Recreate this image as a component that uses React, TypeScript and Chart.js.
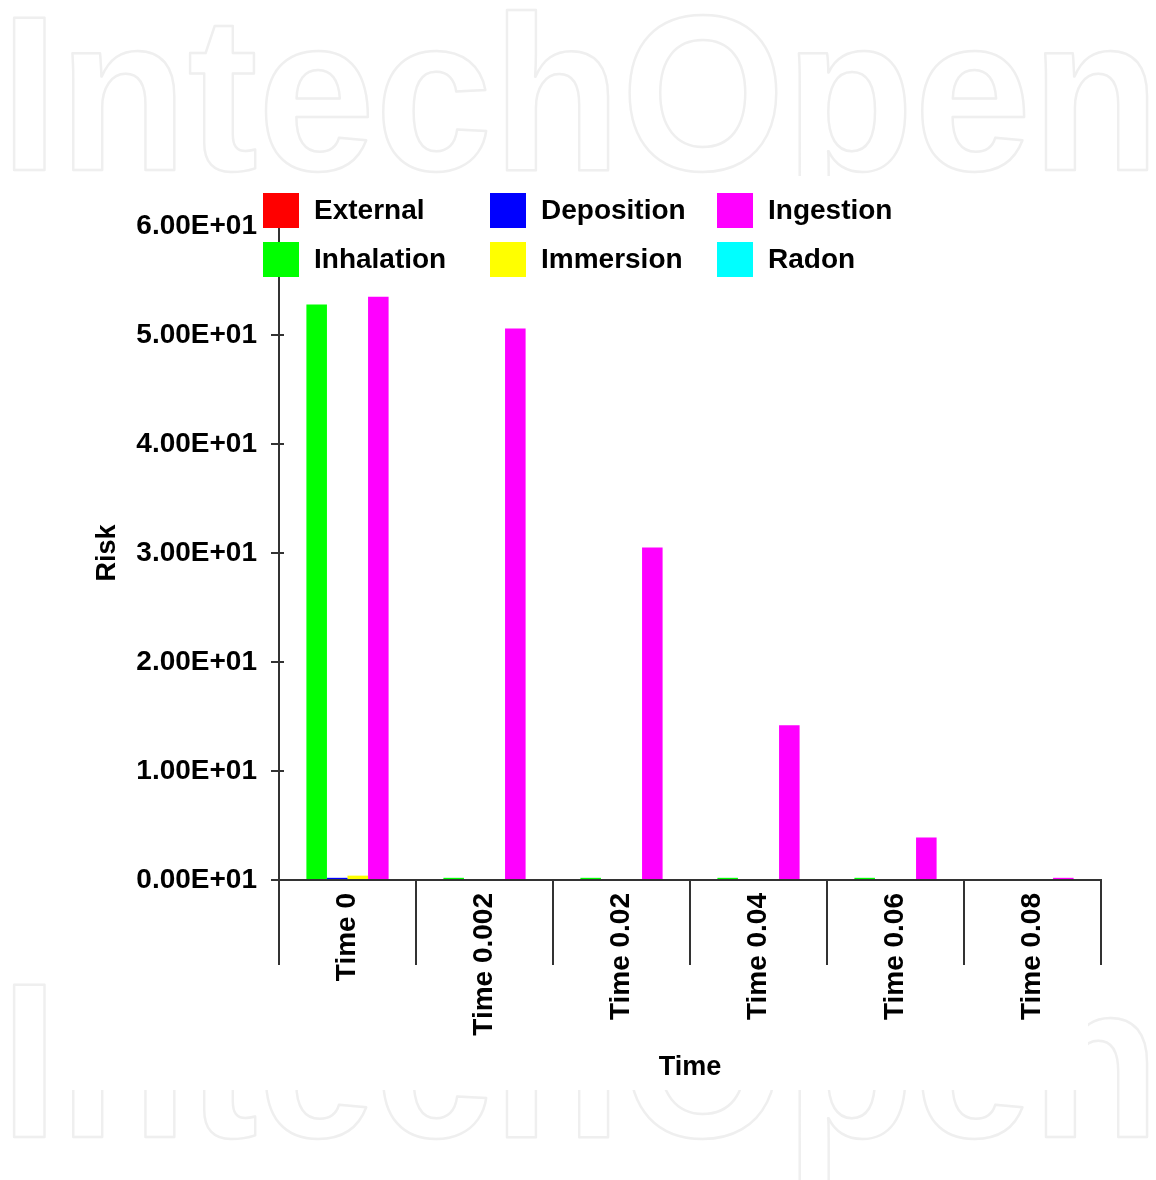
import { useEffect, useRef } from "react";
import { Chart, registerables } from "chart.js";

Chart.register(...registerables);

const categories = ["Time 0", "Time 0.002", "Time 0.02", "Time 0.04", "Time 0.06", "Time 0.08"];
const externalRisk = [0, 0, 0, 0, 0, 0];
const inhalationRisk = [52.8, 0.2, 0.2, 0.2, 0.2, 0];
const depositionRisk = [0.2, 0, 0, 0, 0, 0];
const immersionRisk = [0.4, 0, 0, 0, 0, 0];
const ingestionRisk = [53.5, 50.6, 30.5, 14.2, 3.9, 0.2];
const radonRisk = [0, 0, 0, 0, 0, 0];

const seriesNames = ["External", "Inhalation", "Deposition", "Immersion", "Ingestion", "Radon"];
const seriesColors = ["#ff0000", "#00ff00", "#0000ff", "#ffff00", "#ff00ff", "#00ffff"];
const seriesValues = [externalRisk, inhalationRisk, depositionRisk, immersionRisk, ingestionRisk, radonRisk];

const yTickValues = [0, 10, 20, 30, 40, 50, 60];
const yTickLabels = ["0.00E+01", "1.00E+01", "2.00E+01", "3.00E+01", "4.00E+01", "5.00E+01", "6.00E+01"];

const FONT = '"Liberation Sans", Arial, sans-serif';
const AXIS_COLOR = "#333333";

const decorPlugin = {
  id: "decor",
  beforeDraw(chart: any) {
    const ctx = chart.ctx as CanvasRenderingContext2D;
    ctx.save();
    ctx.fillStyle = "#ffffff";
    ctx.fillRect(0, 0, chart.width, chart.height);
    // watermark
    const size = 220;
    ctx.font = `bold ${size}px ${FONT}`;
    const w = ctx.measureText("IntechOpen").width;
    const sx = 1160 / w;
    ctx.strokeStyle = "#efefef";
    ctx.lineWidth = 2.5;
    ctx.lineJoin = "round";
    ctx.textBaseline = "alphabetic";
    ctx.textAlign = "left";
    ctx.save();
    ctx.translate(0, 170);
    ctx.scale(sx, 1);
    ctx.strokeText("IntechOpen", 0, 0);
    ctx.restore();
    ctx.save();
    ctx.translate(0, 1137);
    ctx.scale(sx, 1);
    ctx.strokeText("IntechOpen", 0, 0);
    ctx.restore();
    ctx.fillStyle = "#ffffff";
    ctx.fillRect(48, 176, 1040, 914);
    ctx.restore();
  },
  afterDraw(chart: any) {
    const ctx = chart.ctx as CanvasRenderingContext2D;
    const y = chart.scales.y;
    const left = chart.chartArea.left;
    ctx.save();
    ctx.strokeStyle = AXIS_COLOR;
    ctx.lineWidth = 2;
    yTickValues.forEach((v) => {
      const py = y.getPixelForValue(v);
      ctx.beginPath();
      ctx.moveTo(left, py);
      ctx.lineTo(left + 5, py);
      ctx.stroke();
    });
    // legend
    const colX = [263, 490, 717];
    const rowY = [193, 242];
    ctx.font = `bold 28px ${FONT}`;
    ctx.textBaseline = "middle";
    ctx.textAlign = "left";
    chart.data.datasets.forEach((ds: any, i: number) => {
      const c = Math.floor(i / 2);
      const r = i % 2;
      const bx = colX[c];
      const by = rowY[r];
      ctx.fillStyle = ds.backgroundColor;
      ctx.fillRect(bx, by, 36, 35);
      ctx.fillStyle = "#000000";
      ctx.fillText(ds.label, bx + 51, by + 18);
    });
    ctx.restore();
  },
};

export default function App() {
  const ref = useRef<HTMLCanvasElement | null>(null);
  useEffect(() => {
    if (!ref.current) return;
    const chart = new Chart(ref.current, {
      type: "bar",
      data: {
        labels: categories,
        datasets: seriesNames.map((name, i) => ({
          label: name,
          data: seriesValues[i],
          backgroundColor: seriesColors[i],
          borderWidth: 0,
          barPercentage: 1,
          categoryPercentage: 0.9,
        })),
      },
      options: {
        responsive: false,
        animation: false,
        events: [],
        layout: { padding: { left: 0, top: 226, right: 55, bottom: 96 } },
        plugins: {
          legend: { display: false },
          tooltip: { enabled: false },
        },
        scales: {
          x: {
            afterFit(scale: any) {
              scale.height = 204;
            },
            border: { display: true, color: AXIS_COLOR, width: 2 },
            grid: {
              display: true,
              offset: true,
              drawOnChartArea: false,
              drawTicks: true,
              tickLength: 85,
              color: AXIS_COLOR,
              lineWidth: 2,
            },
            ticks: {
              autoSkip: false,
              minRotation: 90,
              maxRotation: 90,
              padding: -72,
              color: "#000000",
              font: { family: FONT, size: 28, weight: "bold" },
            },
            title: {
              display: true,
              text: "Time",
              color: "#000000",
              padding: 0,
              font: { family: FONT, size: 27, weight: "bold" },
            },
          },
          y: {
            min: 0,
            max: 60,
            afterFit(scale: any) {
              scale.width = 279;
            },
            afterBuildTicks(scale: any) {
              scale.ticks = yTickValues.map((v) => ({ value: v }));
            },
            border: { display: true, color: AXIS_COLOR, width: 2 },
            grid: {
              display: true,
              drawOnChartArea: false,
              drawTicks: true,
              tickLength: 8,
              color: AXIS_COLOR,
              lineWidth: 2,
            },
            ticks: {
              padding: 14,
              color: "#000000",
              font: { family: FONT, size: 28, weight: "bold" },
              callback: (_v: any, idx: number) => yTickLabels[idx],
            },
            title: {
              display: true,
              text: "Risk",
              color: "#000000",
              padding: { top: 91, bottom: 0 },
              font: { family: FONT, size: 27, weight: "bold" },
            },
          },
        },
      },
      plugins: [decorPlugin],
    });
    return () => chart.destroy();
  }, []);
  return (
    <div style={{ position: "fixed", left: 0, top: 0, width: 1156, height: 1180, background: "#fff" }}>
      <canvas ref={ref} width={1156} height={1180} style={{ display: "block" }} />
    </div>
  );
}
